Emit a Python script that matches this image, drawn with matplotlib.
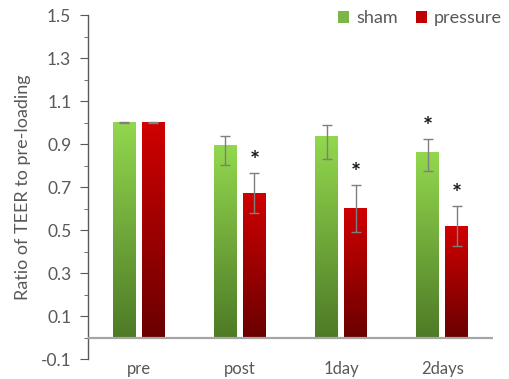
import numpy as np
import matplotlib as mpl
import matplotlib.pyplot as plt
from matplotlib.colors import LinearSegmentedColormap
from matplotlib.patches import Patch

mpl.rcParams['font.family'] = ['Lato', 'DejaVu Sans']

# Data
categories = ['pre', 'post', '1day', '2days']
sham = [1.0, 0.892, 0.938, 0.862]
sham_err_lo = [0.002, 0.088, 0.108, 0.088]
sham_err_hi = [0.002, 0.046, 0.053, 0.064]
pressure = [1.0, 0.673, 0.602, 0.520]
pressure_err_lo = [0.002, 0.091, 0.108, 0.093]
pressure_err_hi = [0.002, 0.095, 0.109, 0.093]
sham_star = [False, False, False, True]
pressure_star = [False, True, True, True]

text_color = '#595959'
green_map = LinearSegmentedColormap.from_list('g', ['#4E7A26', '#92D84E'])
red_map = LinearSegmentedColormap.from_list('r', ['#6A0000', '#D00000'])

fig = plt.figure(figsize=(5.09, 3.79), dpi=100)
ax = fig.add_axes([0.1729, 0.0515, 0.7957, 0.9089])

x = np.arange(len(categories))
width = 0.227
offset = 0.143

ax.set_xlim(-0.5, 3.5)
ax.set_ylim(-0.1, 1.5)

bars_s = ax.bar(x - offset, sham, width, color='none', edgecolor='none')
bars_p = ax.bar(x + offset, pressure, width, color='none', edgecolor='none')

# Vertical gradient inside each bar
grad = np.linspace(0, 1, 256).reshape(-1, 1)
for bars, cmap in [(bars_s, green_map), (bars_p, red_map)]:
    for b in bars:
        x0, y0 = b.get_x(), b.get_y()
        ax.imshow(grad, extent=[x0, x0 + b.get_width(), y0, y0 + b.get_height()],
                  origin='lower', aspect='auto', cmap=cmap, zorder=2)

ax.set_xlim(-0.5, 3.5)
ax.set_ylim(-0.1, 1.5)

ax.errorbar(x - offset, sham, yerr=[sham_err_lo, sham_err_hi], fmt='none',
            ecolor='#7F7F7F', elinewidth=1, capsize=3.5, capthick=1, zorder=3)
ax.errorbar(x + offset, pressure, yerr=[pressure_err_lo, pressure_err_hi],
            fmt='none', ecolor='#7F7F7F', elinewidth=1, capsize=3.5,
            capthick=1, zorder=3)

# Significance stars
for i in range(len(categories)):
    if sham_star[i]:
        ax.annotate('*', (x[i] - offset, sham[i] + sham_err_hi[i]),
                    xytext=(0, 0), textcoords='offset points', ha='center',
                    va='bottom', fontsize=17, fontweight='bold',
                    color='#1a1a1a')
    if pressure_star[i]:
        ax.annotate('*', (x[i] + offset, pressure[i] + pressure_err_hi[i]),
                    xytext=(0, 0), textcoords='offset points', ha='center',
                    va='bottom', fontsize=17, fontweight='bold',
                    color='#1a1a1a')

# Zero line as x axis
ax.axhline(0, color='#A6A6A6', linewidth=1.6, zorder=4)

for s in ['top', 'right', 'bottom']:
    ax.spines[s].set_visible(False)
ax.spines['left'].set_color(text_color)
ax.spines['left'].set_linewidth(1)

ax.set_yticks(np.arange(-0.1, 1.51, 0.2))
ax.set_yticklabels(['%.1f' % v for v in np.arange(-0.1, 1.51, 0.2)])
ax.set_yticks(np.arange(0.0, 1.5, 0.2), minor=True)
ax.tick_params(axis='y', which='major', length=6, color=text_color,
               labelcolor=text_color, labelsize=12.5, pad=6)
ax.tick_params(axis='y', which='minor', length=3, color=text_color)

ax.set_xticks(x)
ax.set_xticklabels(categories)
ax.tick_params(axis='x', length=0, labelcolor=text_color, labelsize=12,
               pad=1)

ax.set_ylabel('Ratio of TEER to pre-loading', color=text_color, fontsize=13,
              labelpad=7)

handles = [Patch(facecolor='#7AB648'), Patch(facecolor='#C00000')]
ax.legend(handles, ['sham', 'pressure'], loc='upper right', frameon=False,
          fontsize=13, labelcolor=text_color, handlelength=0.6,
          handleheight=0.6, handletextpad=0.4, columnspacing=1.0, ncol=2,
          bbox_to_anchor=(1.04, 1.035), borderaxespad=0)

fig.savefig('out.png', dpi=100)
